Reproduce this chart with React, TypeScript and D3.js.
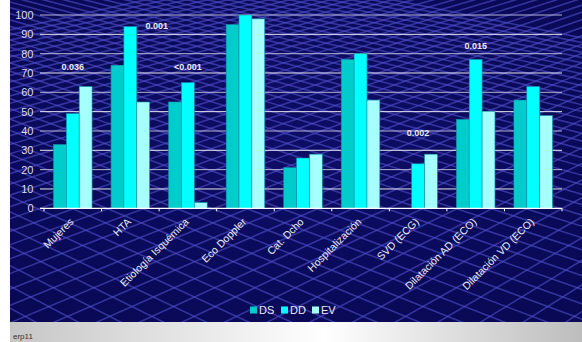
import React from 'react';
import * as d3 from 'd3';

const categories = ['Mujeres', 'HTA', 'Etiología Isquémica', 'Eco Doppler', 'Cat. Dcho', 'Hospitalización', 'SVD (ECG)', 'Dilatación AD (ECO)', 'Dilatación VD (ECO)'];
const seriesNames = ['DS', 'DD', 'EV'];
const dsValues = [33, 74, 55, 95, 21, 77, 0, 46, 56];
const ddValues = [49, 94, 65, 100, 26, 80, 23, 77, 63];
const evValues = [63, 55, 3, 98, 28, 56, 28, 50, 48];
const yTicks = [0, 10, 20, 30, 40, 50, 60, 70, 80, 90, 100];
// p-value annotations: category, vertical value (centre), horizontal shift in band steps
const annotCategories = ['Mujeres', 'HTA', 'Etiología Isquémica', 'SVD (ECG)', 'Dilatación AD (ECO)'];
const annotTexts = ['0.036', '0.001', '<0.001', '0.002', '0.015'];
const annotValues = [73.3, 94.3, 73.1, 39, 84.2];
const annotShift = [0, 0.46, 0, 0, 0];

const colors = ['#00CCCC', '#00FFFF', '#A6FFFF'];
const W = 582, H = 342;
const FONT = 'Arial, "Liberation Sans", Helvetica, sans-serif';

export default function App() {
  const seriesValues = [dsValues, ddValues, evValues];
  const x = d3.scaleBand<string>().domain(categories).range([44, 562]).paddingInner(0.33).paddingOuter(0.165);
  const xs = d3.scaleBand<string>().domain(seriesNames).range([0, x.bandwidth()]).padding(0);
  const y = d3.scaleLinear().domain([0, 100]).range([208.3, 15]);
  const step = x.step();

  // perspective floor grid
  const bottomY = 322;
  const vpA = [1500, -300];
  const vpB = [-1100, -300];
  const floorLines: { x1: number; y1: number; x2: number; y2: number }[] = [];
  for (let bx = -1400; bx <= 2100; bx += 44) {
    floorLines.push({ x1: bx, y1: bottomY + 20, x2: vpA[0], y2: vpA[1] });
    floorLines.push({ x1: bx + 20, y1: bottomY + 20, x2: vpB[0], y2: vpB[1] });
  }

  const boundaries = d3.range(categories.length + 1).map((i) => 44 + i * step);

  return (
    <svg width={W} height={H} style={{ position: 'absolute', left: 0, top: 0, display: 'block' }} fontFamily={FONT}>
      <defs>
        <clipPath id="bgclip">
          <rect x={10} y={0} width={W - 10} height={322} />
        </clipPath>
        <linearGradient id="footer" x1="0" x2="1" y1="0" y2="0">
          <stop offset="0" stopColor="#c6c6c6" />
          <stop offset="0.55" stopColor="#ffffff" />
          <stop offset="1" stopColor="#bdbdbd" />
        </linearGradient>
        <radialGradient id="bgGrad" cx="0.5" cy="0.45" r="0.8">
          <stop offset="0" stopColor="#0d0d66" />
          <stop offset="1" stopColor="#080852" />
        </radialGradient>
      </defs>
      <rect x={0} y={0} width={W} height={H} fill="#ffffff" />
      <g clipPath="url(#bgclip)">
        <rect x={10} y={0} width={W - 10} height={322} fill="url(#bgGrad)" />
        <g stroke="#5050cc" strokeWidth={1.6} strokeOpacity={0.6}>
          {floorLines.map((l, i) => (
            <line key={i} x1={l.x1} y1={l.y1} x2={l.x2} y2={l.y2} />
          ))}
        </g>
      </g>
      <rect x={10} y={322} width={W - 10} height={20} fill="url(#footer)" />
      <text x={13} y={339} fontSize={8} fill="#333333">erp11</text>

      {/* gridlines */}
      {yTicks.filter((t) => t > 0).map((t) => (
        <line key={t} x1={40} x2={562} y1={y(t)} y2={y(t)} stroke={t % 20 === 0 ? '#b4b4d8' : '#e6e6f4'} strokeWidth={1} />
      ))}
      {yTicks.map((t) => (
        <text key={'l' + t} x={33.5} y={y(t) + 4} fontSize={11} fill="#dcdcec" textAnchor="end">{t}</text>
      ))}

      {/* bars */}
      {categories.map((c, ci) => (
        <g key={c} transform={`translate(${x(c)},0)`}>
          {seriesNames.map((s, si) => {
            const v = seriesValues[si][ci];
            if (!v) return null;
            return (
              <rect key={s} x={xs(s)} y={y(v)} width={xs.bandwidth()} height={y(0) - y(v)} fill={colors[si]} stroke="#1092a8" strokeWidth={0.6} />
            );
          })}
        </g>
      ))}

      {/* x axis */}
      <line x1={40} x2={562} y1={y(0)} y2={y(0)} stroke="#ffffff" strokeWidth={1.2} />
      {boundaries.map((bx, i) => (
        <line key={'t' + i} x1={bx} x2={bx} y1={y(0)} y2={y(0) + 3} stroke="#ffffff" strokeWidth={1} />
      ))}
      {categories.map((c) => {
        const cx = (x(c) as number) + x.bandwidth() / 2;
        return (
          <text key={'c' + c} transform={`translate(${cx + 1.5},${222.5}) rotate(-45)`} fontSize={10.5} fill="#ececf6" textAnchor="end">{c}</text>
        );
      })}

      {/* annotations */}
      {annotCategories.map((c, i) => {
        const cx = (x(c) as number) + x.bandwidth() / 2 + annotShift[i] * step;
        return (
          <text key={'a' + i} x={cx} y={y(annotValues[i]) + 3.3} fontSize={9} fontWeight="bold" fill="#ececf6" textAnchor="middle">{annotTexts[i]}</text>
        );
      })}

      {/* legend */}
      {seriesNames.map((s, i) => {
        const lx = [250, 281, 312][i];
        return (
          <g key={'lg' + s}>
            <rect x={lx} y={306.5} width={7} height={7} fill={colors[i]} />
            <text x={lx + 9} y={314} fontSize={11} fill="#ececf6">{s}</text>
          </g>
        );
      })}
    </svg>
  );
}
